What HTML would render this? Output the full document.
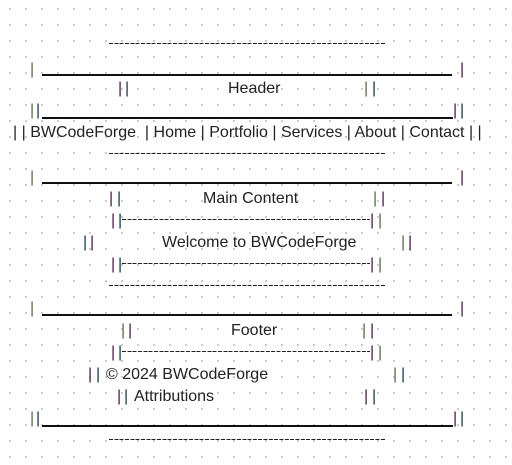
<!DOCTYPE html>
<html><head><meta charset="utf-8"><style>
html,body{margin:0;padding:0}
body{width:512px;height:465px;position:relative;overflow:hidden;background:#fff;
background-image:radial-gradient(circle,#c8c8c8 1px,transparent 1.3px);background-size:16px 16px;background-position:2px 1px;
font-family:"Liberation Sans",sans-serif;font-size:16px;color:#222}
.t{position:absolute;line-height:22px;white-space:pre;background:transparent;transform:translateY(2px)}
.b{position:absolute;line-height:22px;color:#333;transform:translateY(2px)}
.g{color:#5a6a4a}.p{color:#4a1a4a}.k{color:#1a3a4a}
.d{position:absolute;height:1px;background:repeating-linear-gradient(90deg,#222 0 4px,transparent 4px 5.33px)}
.u{position:absolute;height:1.5px;background:#111}
</style></head><body>
<div class="d" style="left:109px;top:43px;width:277px"></div>
<span class="b g" style="left:30px;top:57px">|</span><div class="u" style="left:42px;top:74px;width:410px"></div><span class="b p" style="left:460px;top:57px">|</span>
<span class="b p" style="left:118px;top:76px">|</span><span class="b k" style="left:125px;top:76px">|</span>
<span class="t" style="left:228px;top:76px">Header</span>
<span class="b g" style="left:364px;top:76px">|</span><span class="b k" style="left:372px;top:76px">|</span>
<span class="b g" style="left:30px;top:98px">|</span><span class="b k" style="left:36px;top:98px">|</span><div class="u" style="left:42px;top:117px;width:411px"></div><span class="b p" style="left:453px;top:98px">|</span><span class="b k" style="left:460px;top:98px">|</span>
<span class="t" style="left:13px;top:120px">| | BWCodeForge  | Home | Portfolio | Services | About | Contact | |</span>
<div class="d" style="left:109px;top:153px;width:277px"></div>
<span class="b g" style="left:30px;top:165px">|</span><div class="u" style="left:42px;top:182px;width:410px"></div><span class="b p" style="left:460px;top:165px">|</span>
<span class="b p" style="left:109px;top:186px">|</span><span class="b k" style="left:117px;top:186px">|</span>
<span class="t" style="left:203px;top:186px">Main Content</span>
<span class="b g" style="left:373px;top:186px">|</span><span class="b p" style="left:381px;top:186px">|</span>
<span class="b p" style="left:111px;top:208px">|</span><span class="b k" style="left:118px;top:208px">|</span><div class="d" style="left:122px;top:219px;width:248px"></div><span class="b p" style="left:370px;top:208px">|</span><span class="b g" style="left:378px;top:208px">|</span>
<span class="b k" style="left:83px;top:230px">|</span><span class="b p" style="left:90px;top:230px">|</span>
<span class="t" style="left:162px;top:230px">Welcome to BWCodeForge</span>
<span class="b g" style="left:401px;top:230px">|</span><span class="b p" style="left:408px;top:230px">|</span>
<span class="b p" style="left:111px;top:252px">|</span><span class="b k" style="left:118px;top:252px">|</span><div class="d" style="left:122px;top:263px;width:248px"></div><span class="b p" style="left:370px;top:252px">|</span><span class="b g" style="left:378px;top:252px">|</span>
<div class="d" style="left:109px;top:285px;width:277px"></div>
<span class="b g" style="left:30px;top:296px">|</span><div class="u" style="left:42px;top:314px;width:410px"></div><span class="b p" style="left:460px;top:296px">|</span>
<span class="b g" style="left:121px;top:318px">|</span><span class="b p" style="left:128px;top:318px">|</span>
<span class="t" style="left:231px;top:318px">Footer</span>
<span class="b g" style="left:362px;top:318px">|</span><span class="b p" style="left:370px;top:318px">|</span>
<span class="b p" style="left:111px;top:340px">|</span><span class="b k" style="left:118px;top:340px">|</span><div class="d" style="left:122px;top:351px;width:248px"></div><span class="b p" style="left:370px;top:340px">|</span><span class="b g" style="left:378px;top:340px">|</span>
<span class="b p" style="left:88px;top:362px">|</span><span class="b k" style="left:96px;top:362px">|</span>
<span class="t" style="left:106px;top:362px">© 2024 BWCodeForge</span>
<span class="b g" style="left:393px;top:362px">|</span><span class="b k" style="left:401px;top:362px">|</span>
<span class="b p" style="left:117px;top:384px">|</span><span class="b k" style="left:124px;top:384px">|</span>
<span class="t" style="left:134px;top:384px">Attributions</span>
<span class="b p" style="left:364px;top:384px">|</span><span class="b k" style="left:372px;top:384px">|</span>
<span class="b g" style="left:30px;top:406px">|</span><span class="b k" style="left:36px;top:406px">|</span><div class="u" style="left:42px;top:425px;width:411px"></div><span class="b p" style="left:453px;top:406px">|</span><span class="b k" style="left:460px;top:406px">|</span>
<div class="d" style="left:109px;top:439px;width:277px"></div>
</body></html>
